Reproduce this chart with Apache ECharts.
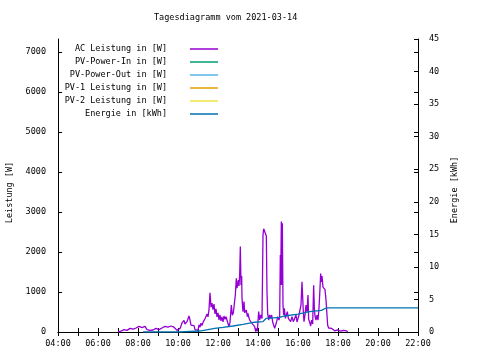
<!DOCTYPE html>
<html>
<head>
<meta charset="utf-8">
<script src="https://cdn.jsdelivr.net/npm/echarts@6/dist/echarts.min.js"></script>
<style>html,body{margin:0;padding:0;background:#fff;}#c{width:480px;height:360px;}</style>
</head>
<body>
<div id="c"></div>
<script>
const titleText = 'Tagesdiagramm vom 2021-03-14';
const seriesNames = ['AC Leistung in [W]', 'PV-Power-In in [W]', 'PV-Power-Out in [W]', 'PV-1 Leistung in [W]', 'PV-2 Leistung in [W]', 'Energie in [kWh]'];
const seriesColors = ['#9400d3', '#009e73', '#56b4e9', '#e69f00', '#f0e442', '#0072b2'];
const xTickHours = [4, 6, 8, 10, 12, 14, 16, 18, 20, 22];

const acTimes = [
 '07:00','07:03','07:06','07:09','07:12','07:15','07:18','07:21','07:24','07:27','07:30','07:33','07:36','07:39','07:42','07:45','07:48','07:51','07:54','07:57',
 '08:00','08:03','08:06','08:09','08:12','08:15','08:18','08:21','08:24','08:27','08:30','08:33','08:36','08:39','08:42','08:45','08:48','08:51','08:54','08:57',
 '09:00','09:03','09:06','09:09','09:12','09:15','09:18','09:21','09:24','09:27','09:30','09:33','09:36','09:39','09:42','09:45','09:48','09:51','09:54','09:57',
 '10:00','10:03','10:06','10:09','10:12','10:15','10:18','10:21','10:24','10:27','10:30','10:33','10:36','10:39','10:42','10:45','10:48','10:51','10:54','10:57',
 '11:00','11:03','11:06','11:09','11:12','11:15','11:18','11:21','11:24','11:27','11:30','11:33','11:36','11:39','11:42','11:45','11:48','11:51','11:54','11:57',
 '12:00','12:03','12:06','12:09','12:12','12:15','12:18','12:21','12:24','12:27','12:30','12:33','12:36','12:40','12:43','12:46','12:50','12:52','12:55','12:57','12:59',
 '13:01','13:03','13:05','13:07','13:09','13:11','13:12','13:15','13:18','13:20','13:22','13:25','13:28','13:30','13:32','13:35','13:38','13:42','13:46','13:50','13:53','13:55','13:58',
 '14:00','14:02','14:05','14:08','14:12','14:15','14:17','14:20','14:23','14:25','14:27','14:29','14:32','14:35','14:38','14:41','14:44','14:47','14:50','14:53','14:56','14:59',
 '15:03','15:05','15:07','15:08','15:10','15:11','15:13','15:15','15:17','15:19','15:22','15:25','15:28','15:31','15:34','15:38','15:42','15:46','15:50','15:54','15:57',
 '16:00','16:03','16:06','16:09','16:12','16:14','16:16','16:18','16:21','16:24','16:27','16:30','16:32','16:35','16:38','16:41','16:44','16:47','16:49','16:51','16:54','16:57',
 '17:00','17:03','17:05','17:08','17:10','17:12','17:15','17:18','17:21','17:24','17:27','17:29','17:32','17:35','17:38','17:41','17:44','17:47','17:50','17:53','17:56','17:59',
 '18:02','18:05','18:08','18:11','18:14','18:17','18:20','18:23','18:26','18:29'];
const acWatts = [
 0,20,40,20,50,30,60,40,70,40,80,50,90,60,100,70,110,80,100,130,
 90,140,100,150,110,150,120,140,100,60,30,60,40,70,30,50,20,60,90,50,
 100,60,110,70,100,60,90,140,110,160,120,160,130,150,110,150,120,70,100,40,
 80,50,90,150,230,180,290,200,160,260,220,400,300,170,210,130,160,60,80,30,
 40,180,120,220,160,240,200,330,280,450,380,560,980,620,720,560,700,450,580,380,
 480,300,430,280,380,250,400,320,380,330,350,130,240,675,420,480,450,925,1340,1100,1180,
 1300,1150,1425,2135,1175,1400,840,510,760,480,510,550,385,465,380,300,330,215,250,135,10,90,20,
 10,510,300,425,340,2425,2580,2560,2580,2400,1000,460,300,425,342,425,250,300,90,175,258,383,
 300,383,1925,1175,2760,1175,2717,675,425,592,342,425,508,342,300,258,383,258,300,425,250,
 217,425,400,675,1258,1300,508,258,425,675,500,925,320,250,150,300,200,1170,600,400,300,420,
 300,600,920,1460,1250,1400,1120,1100,1060,800,420,170,100,150,60,90,40,80,30,60,20,50,
 10,40,20,50,20,40,10,40,30,0];

const energyTimes = ['08:15','10:05','10:10','11:05','11:10','11:50','12:15','12:45','13:15','13:50','14:15','14:25','15:05','15:20','16:00','16:35','17:10','17:25','22:00'];
const energyKWh = [0,0,0.15,0.15,0.3,0.56,0.72,0.92,1.18,1.5,1.6,2.1,2.25,2.46,2.76,3.12,3.33,3.69,3.69];

function toHour(t) { const p = t.split(':'); return +p[0] + (+p[1]) / 60; }
function pairs(times, vals) { return times.map((t, i) => [toHour(t), vals[i]]); }

const FONT = 'DejaVu Sans Mono';
const FS = 8.5;
const txt = { fontFamily: FONT, fontSize: FS, color: '#000' };

const chart = echarts.init(document.getElementById('c'), null, { renderer: 'canvas' });

const legends = seriesNames.map((n, i) => ({
  data: [n],
  orient: 'vertical',
  align: 'right',
  right: 262,
  top: 44 + i * 13,
  padding: 0,
  icon: 'rect',
  itemWidth: 28,
  itemHeight: 1.5,
  selectedMode: false,
  textStyle: Object.assign({}, txt, { lineHeight: 10, padding: [0, 18, 0, 0] })
}));

const seriesData = [pairs(acTimes, acWatts), [], [], [], [], pairs(energyTimes, energyKWh)];

chart.setOption({
  animation: false,
  backgroundColor: '#fff',
  title: {
    text: titleText,
    left: 154,
    top: 13,
    padding: 0,
    textStyle: { fontFamily: FONT, fontSize: FS, fontWeight: 'normal', color: '#000', lineHeight: 10 }
  },
  legend: legends,
  grid: { left: 58, right: 62, top: 39, bottom: 28, containLabel: false, outerBoundsMode: 'none' },
  xAxis: [{
    type: 'value', min: 4, max: 22, interval: 1, position: 'bottom',
    axisLine: { show: true, lineStyle: { color: '#000', width: 1 } },
    axisTick: { show: true, inside: true, length: 4, lineStyle: { color: '#000' } },
    splitLine: { show: false },
    axisLabel: Object.assign({}, txt, {
      margin: 7,
      formatter: v => xTickHours.indexOf(v) >= 0 ? (v < 10 ? '0' : '') + v + ':00' : ''
    })
  }, {
    type: 'value', min: 4, max: 22, interval: 1, position: 'top',
    axisLine: { show: true, lineStyle: { color: '#000', width: 1 } },
    axisTick: { show: true, inside: true, length: 4, lineStyle: { color: '#000' } },
    splitLine: { show: false },
    axisLabel: { show: false }
  }],
  yAxis: [{
    type: 'value', min: 0, max: 7325, interval: 1000, position: 'left',
    name: 'Leistung [W]', nameLocation: 'middle', nameGap: 43, nameRotate: 90,
    nameTextStyle: Object.assign({}, txt, { padding: [0, 14, 0, 0] }),
    axisLine: { show: true, lineStyle: { color: '#000', width: 1 } },
    axisTick: { show: true, inside: true, length: 4, lineStyle: { color: '#000' } },
    splitLine: { show: false },
    axisLabel: Object.assign({}, txt, { margin: 12, showMaxLabel: false, formatter: v => String(v) })
  }, {
    type: 'value', min: 0, max: 45, interval: 5, position: 'right',
    name: 'Energie [kWh]', nameLocation: 'middle', nameGap: 30, nameRotate: 90,
    nameTextStyle: Object.assign({}, txt, { padding: [0, 9, 0, 0] }),
    axisLine: { show: true, lineStyle: { color: '#000', width: 1 } },
    axisTick: { show: true, inside: true, length: 4, lineStyle: { color: '#000' } },
    splitLine: { show: false },
    axisLabel: Object.assign({}, txt, { margin: 11, formatter: v => String(v) })
  }, {
    type: 'value', min: 0, max: 7325, interval: 1000, position: 'right', offset: 0,
    axisLine: { show: false },
    axisTick: { show: true, inside: true, length: 4, lineStyle: { color: '#000' } },
    splitLine: { show: false },
    axisLabel: { show: false }
  }],
  series: seriesNames.map((n, i) => ({
    name: n,
    type: 'line',
    xAxisIndex: 0,
    yAxisIndex: i === 5 ? 1 : 0,
    data: seriesData[i],
    showSymbol: false,
    symbol: 'none',
    color: seriesColors[i],
    lineStyle: { color: seriesColors[i], width: 1.3 },
    z: i === 5 ? 3 : 2
  }))
});
</script>
</body>
</html>
